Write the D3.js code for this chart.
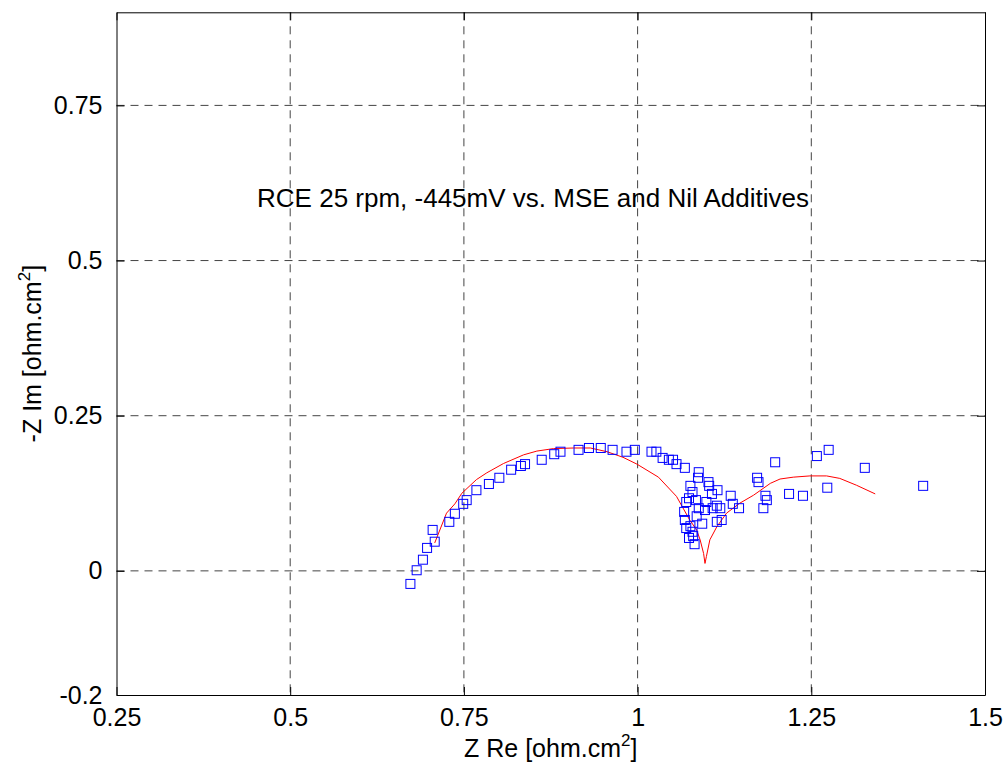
<!DOCTYPE html>
<html>
<head>
<meta charset="utf-8">
<script src="https://cdn.jsdelivr.net/npm/d3@7"></script>
<style>
  html, body { margin: 0; padding: 0; background: #fff; }
  svg { display: block; font-family: "Liberation Sans", Arial, sans-serif; }
</style>
</head>
<body>
<svg id="chart" width="1007" height="774"></svg>
<script>
// ---- data ----
const measuredRe = [0.673,0.682,0.691,0.697,0.705,0.708,0.729,0.737,0.749,0.754,0.768,0.786,0.801,0.818,0.832,0.838,0.862,0.880,0.889,0.915,0.930,0.947,0.964,0.984,0.996,1.020,1.027,1.036,1.045,1.051,1.056,1.068,
  1.088,1.087,1.102,1.076,1.103,1.115,1.079,1.107,1.134,1.074,1.070,1.084,1.099,1.114,1.137,1.146,1.088,1.097,1.108,1.119,1.067,1.085,1.068,1.114,1.121,1.093,1.076,1.070,1.079,1.080,1.074,1.082,
  1.172,1.174,1.184,1.181,1.198,1.186,1.218,1.238,1.258,1.275,1.273,1.327,1.411];
const measuredIm = [-0.021,0.001,0.018,0.037,0.066,0.047,0.079,0.092,0.108,0.114,0.130,0.140,0.150,0.163,0.169,0.172,0.179,0.188,0.192,0.195,0.198,0.198,0.195,0.192,0.195,0.192,0.192,0.182,0.179,0.179,0.172,0.166,
  0.159,0.150,0.143,0.137,0.137,0.130,0.127,0.124,0.121,0.117,0.111,0.114,0.111,0.105,0.108,0.101,0.101,0.098,0.101,0.101,0.095,0.088,0.082,0.079,0.082,0.076,0.072,0.069,0.063,0.056,0.053,0.043,
  0.150,0.143,0.121,0.101,0.175,0.114,0.124,0.121,0.185,0.195,0.134,0.166,0.137];
const fitRe = [0.708,0.725,0.737,0.747,0.768,0.783,0.807,0.836,0.855,0.879,0.908,0.932,0.956,0.979,0.999,1.030,1.056,1.075,1.085,1.090,1.095,1.097,1.099,1.104,1.114,1.128,1.147,1.167,1.191,1.205,1.224,1.248,1.272,1.291,1.315,1.342];
const fitIm = [0.045,0.093,0.108,0.125,0.147,0.158,0.173,0.187,0.193,0.197,0.198,0.198,0.192,0.183,0.172,0.151,0.120,0.082,0.066,0.050,0.028,0.012,0.023,0.050,0.071,0.093,0.109,0.122,0.141,0.148,0.151,0.153,0.153,0.149,0.138,0.124];
const xTicks = [0.25,0.5,0.75,1,1.25,1.5];
const xTickLabels = ["0.25","0.5","0.75","1","1.25","1.5"];
const yTicks = [-0.2,0,0.25,0.5,0.75];
const yTickLabels = ["-0.2","0","0.25","0.5","0.75"];
const titleText = "RCE 25 rpm, -445mV vs. MSE and Nil Additives";

// ---- layout ----
const svg = d3.select("#chart");
const L = 116.5, R = 985, T = 12.3, B = 695;
const x = d3.scaleLinear().domain([0.25, 1.5]).range([L, R]);
const y = d3.scaleLinear().domain([-0.2, 0.9]).range([B, T]);
const fs = 25;

// grid
const grid = svg.append("g");
xTicks.slice(1, -1).forEach(v => {
  grid.append("line").attr("x1", x(v)).attr("x2", x(v)).attr("y1", T).attr("y2", B)
    .attr("stroke", "#444").attr("stroke-width", 1).attr("stroke-dasharray", "8,6");
});
yTicks.slice(1).forEach(v => {
  grid.append("line").attr("x1", L).attr("x2", R).attr("y1", y(v)).attr("y2", y(v))
    .attr("stroke", "#444").attr("stroke-width", 1).attr("stroke-dasharray", "8,6");
});

// axes with inward ticks
const xAxisB = d3.axisBottom(x).tickValues(xTicks).tickFormat((d, i) => xTickLabels[i]).tickSizeInner(-8).tickSizeOuter(0).tickPadding(13);
const xAxisT = d3.axisTop(x).tickValues(xTicks).tickFormat("").tickSizeInner(-8).tickSizeOuter(0);
const yAxisL = d3.axisLeft(y).tickValues(yTicks).tickFormat((d, i) => yTickLabels[i]).tickSizeInner(-8).tickSizeOuter(0).tickPadding(14);
const yAxisR = d3.axisRight(y).tickValues(yTicks).tickFormat("").tickSizeInner(-8).tickSizeOuter(0);

function style(g) {
  g.selectAll("path").attr("stroke", "#000");
  g.selectAll("line").attr("stroke", "#000");
  g.selectAll("text").attr("fill", "#000").style("font-size", fs + "px").style("font-family", '"Liberation Sans", Arial, sans-serif');
}
svg.append("g").attr("transform", `translate(0,${B})`).call(xAxisB).call(style);
svg.append("g").attr("transform", `translate(0,${T})`).call(xAxisT).call(style);
svg.append("g").attr("transform", `translate(${L},0)`).call(yAxisL).call(style);
svg.append("g").attr("transform", `translate(${R},0)`).call(yAxisR).call(style);

// fit line
const fitData = fitRe.map((v, i) => [v, fitIm[i]]);
svg.append("path").datum(fitData)
  .attr("d", d3.line().x(d => x(d[0])).y(d => y(d[1])))
  .attr("fill", "none").attr("stroke", "#ff0000").attr("stroke-width", 1);

// measured squares
const sq = 9;
const meas = measuredRe.map((v, i) => [v, measuredIm[i]]);
svg.append("g").selectAll("rect").data(meas).join("rect")
  .attr("x", d => x(d[0]) - sq / 2).attr("y", d => y(d[1]) - sq / 2)
  .attr("width", sq).attr("height", sq)
  .attr("fill", "none").attr("stroke", "#0000ff").attr("stroke-width", 1);

// title text inside plot
svg.append("text").attr("x", x(0.4523)).attr("y", y(0.587))
  .attr("font-size", 26).attr("fill", "#000").text(titleText);

// axis labels
const xl = svg.append("text").attr("x", (L + R) / 2).attr("y", 757).attr("text-anchor", "middle")
  .attr("font-size", fs).attr("fill", "#000");
xl.append("tspan").text("Z Re [ohm.cm");
xl.append("tspan").attr("font-size", 17).attr("dy", -11).text("2");
xl.append("tspan").attr("dy", 11).text("]");

const yl = svg.append("text").attr("transform", `translate(41,${(T + B) / 2}) rotate(-90)`).attr("text-anchor", "middle")
  .attr("font-size", fs).attr("fill", "#000");
yl.append("tspan").text("-Z Im [ohm.cm");
yl.append("tspan").attr("font-size", 17).attr("dy", -11).text("2");
yl.append("tspan").attr("dy", 11).text("]");
</script>
</body>
</html>
